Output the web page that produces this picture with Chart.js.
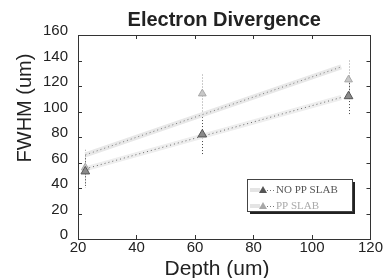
<!DOCTYPE html>
<html>
<head>
<meta charset="utf-8">
<script src="https://cdn.jsdelivr.net/npm/chart.js@4.4.1/dist/chart.umd.min.js"></script>
<style>
  html, body { margin: 0; padding: 0; background: #fff; }
  #wrap { width: 383px; height: 278px; }
</style>
</head>
<body>
<div id="wrap"><canvas id="divChart"></canvas></div>
<script>
// data
const seriesNames = ['NO PP SLAB', 'PP SLAB'];
const depths = [22.5, 62.5, 112.5];
const noPPFwhm = [53, 82, 112];
const noPPErr = [13, 16, 15];
const ppFwhm = [56, 114, 125];
const ppErr = [14, 15, 15];
// linear fit lines (end points)
const fitDepths = [22.5, 110];
const noPPFit = [55, 111];
const ppFit = [66, 135];

const xTitle = 'Depth (um)';
const yTitle = 'FWHM (um)';

const darkGray = '#555555';
const lightGray = '#a8a8a8';
const sans = '"Liberation Sans", Arial, sans-serif';

function pts(xs, ys) {
    return xs.map(function (x, i) { return { x: x, y: ys[i] }; });
}

// error bars, frame with inward ticks, axis titles, boxed legend
const extras = {
    id: 'extras',
    beforeDatasetsDraw: function (chart) {
        const ctx = chart.ctx;
        const xs = chart.scales.x, ys = chart.scales.y;
        const sets = [[noPPFwhm, noPPErr, '#444'], [ppFwhm, ppErr, '#999']];
        ctx.save();
        ctx.lineWidth = 1;
        sets.forEach(function (s) {
            ctx.strokeStyle = s[2];
            ctx.setLineDash([1, 2]);
            depths.forEach(function (d, i) {
                const px = Math.round(xs.getPixelForValue(d)) + 0.5;
                ctx.beginPath();
                ctx.moveTo(px, ys.getPixelForValue(s[0][i] + s[1][i]));
                ctx.lineTo(px, ys.getPixelForValue(s[0][i] - s[1][i]));
                ctx.stroke();
            });
        });
        ctx.restore();
    },
    afterDraw: function (chart) {
        const ctx = chart.ctx;
        const a = chart.chartArea;
        const xs = chart.scales.x, ys = chart.scales.y;
        ctx.save();
        ctx.strokeStyle = '#333';
        ctx.lineWidth = 1;
        ctx.strokeRect(Math.round(a.left) + 0.5, Math.round(a.top) + 0.5,
            Math.round(a.right - a.left), Math.round(a.bottom - a.top));
        ctx.beginPath();
        xs.ticks.forEach(function (t) {
            const px = Math.round(xs.getPixelForValue(t.value)) + 0.5;
            ctx.moveTo(px, a.bottom); ctx.lineTo(px, a.bottom - 4);
            ctx.moveTo(px, a.top); ctx.lineTo(px, a.top + 4);
        });
        ys.ticks.forEach(function (t) {
            const py = Math.round(ys.getPixelForValue(t.value)) + 0.5;
            ctx.moveTo(a.left, py); ctx.lineTo(a.left + 4, py);
            ctx.moveTo(a.right, py); ctx.lineTo(a.right - 4, py);
        });
        ctx.stroke();

        // axis titles
        ctx.fillStyle = '#222';
        ctx.font = '21px ' + sans;
        ctx.textAlign = 'center';
        ctx.textBaseline = 'alphabetic';
        ctx.fillText(xTitle, 217, 275);
        ctx.save();
        ctx.translate(31, 108);
        ctx.rotate(-Math.PI / 2);
        ctx.font = '20px ' + sans;
        ctx.fillText(yTitle, 0, 0);
        ctx.restore();

        // legend box
        const bx = 247, by = 179, bw = 105, bh = 32;
        ctx.fillStyle = '#222';
        ctx.fillRect(bx + 3, by + 3, bw, bh);
        ctx.fillStyle = '#fff';
        ctx.fillRect(bx, by, bw, bh);
        ctx.strokeStyle = '#444';
        ctx.strokeRect(bx + 0.5, by + 0.5, bw, bh);
        const rows = [[darkGray, '#555'], [lightGray, '#aaa']];
        ctx.textAlign = 'left';
        seriesNames.forEach(function (name, i) {
            const y = by + 11 + i * 16;
            ctx.setLineDash([]);
            ctx.strokeStyle = '#e4e4e4';
            ctx.lineWidth = 4;
            ctx.beginPath(); ctx.moveTo(bx + 3, y); ctx.lineTo(bx + 13, y); ctx.stroke();
            ctx.strokeStyle = '#777';
            ctx.lineWidth = 1;
            ctx.setLineDash([1, 2]);
            ctx.beginPath(); ctx.moveTo(bx + 20, y + 0.5); ctx.lineTo(bx + 27, y + 0.5); ctx.stroke();
            ctx.setLineDash([]);
            ctx.fillStyle = rows[i][0];
            ctx.beginPath();
            ctx.moveTo(bx + 16, y - 4); ctx.lineTo(bx + 20, y + 3); ctx.lineTo(bx + 12, y + 3);
            ctx.closePath(); ctx.fill();
            ctx.fillStyle = rows[i][1];
            ctx.font = '11px "Liberation Serif"';
            ctx.textBaseline = 'middle';
            ctx.fillText(name, bx + 29, y);
        });
        ctx.restore();
    }
};

const tickFont = { family: sans, size: 15 };

new Chart(document.getElementById('divChart').getContext('2d'), {
    data: {
        datasets: [
            {
                type: 'line', data: pts(fitDepths, ppFit), order: 6,
                borderColor: '#e8e8e8', borderWidth: 5, pointRadius: 0
            },
            {
                type: 'line', data: pts(fitDepths, noPPFit), order: 5,
                borderColor: '#eeeeee', borderWidth: 5, pointRadius: 0
            },
            {
                type: 'line', data: pts(fitDepths, ppFit), order: 4,
                borderColor: '#777', borderWidth: 1, borderDash: [1, 3], pointRadius: 0
            },
            {
                type: 'line', data: pts(fitDepths, noPPFit), order: 3,
                borderColor: '#666', borderWidth: 1, borderDash: [1, 3], pointRadius: 0
            },
            {
                type: 'scatter', label: seriesNames[1], data: pts(depths, ppFwhm), order: 2,
                pointStyle: 'triangle', pointRadius: 4.5,
                backgroundColor: '#c8c8c8', borderColor: lightGray, borderWidth: 1
            },
            {
                type: 'scatter', label: seriesNames[0], data: pts(depths, noPPFwhm), order: 1,
                pointStyle: 'triangle', pointRadius: 5,
                backgroundColor: '#8a8a8a', borderColor: darkGray, borderWidth: 1
            }
        ]
    },
    options: {
        responsive: true,
        maintainAspectRatio: false,
        animation: false,
        layout: { padding: { left: 0, right: 11, top: 0, bottom: 0 } },
        plugins: {
            legend: { display: false },
            tooltip: { enabled: false },
            title: {
                display: true,
                text: 'Electron Divergence',
                fullSize: false,
                color: '#222',
                font: { family: sans, size: 20, weight: 'bold' },
                padding: { top: 8, bottom: 3 }
            }
        },
        scales: {
            x: {
                type: 'linear', min: 20, max: 120,
                grid: { display: false, drawTicks: false },
                border: { display: false },
                ticks: { stepSize: 20, color: '#222', font: tickFont, padding: 0, maxRotation: 0 },
                afterFit: function (scale) { scale.height = 39; }
            },
            y: {
                type: 'linear', min: 0, max: 160,
                grid: { display: false, drawTicks: false },
                border: { display: false },
                ticks: { stepSize: 20, color: '#222', font: tickFont, padding: 10, labelOffset: -4 },
                afterFit: function (scale) { scale.width = 78; }
            }
        }
    },
    plugins: [extras]
});
</script>
</body>
</html>
